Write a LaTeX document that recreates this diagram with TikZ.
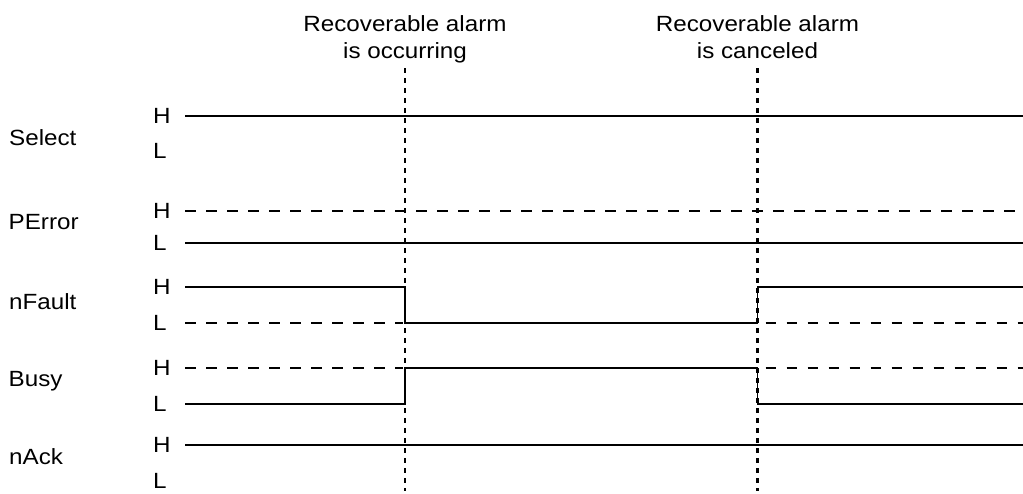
\documentclass[tikz,border=0pt]{standalone}
\usepackage{fontspec}
\setmainfont{Liberation Sans}[FakeStretch=1.1]
\begin{document}
\begin{tikzpicture}[x=1pt,y=-1pt,
  txt/.style={inner sep=0pt, font=\fontsize{22}{26}\selectfont},
  lbl/.style={txt, anchor=base west},
  hdr/.style={txt, anchor=base},
  wave/.style={line width=1.9pt},
  ghost/.style={line width=1.8pt, dash pattern=on 10.5pt off 10.5pt},
  event/.style={line width=2.1pt, dash pattern=on 5pt off 5pt}]
\useasboundingbox (0,0) rectangle (1023,493);

% time axis: start, end and the two event instants
\def\xs{185}
\def\xe{1023}
\def\ta{405}
\def\tb{757.5}

% event markers
\coordinate (evAtop) at (\ta,68);
\coordinate (evAbot) at (\ta,491);
\coordinate (evBtop) at (\tb,68);
\coordinate (evBbot) at (\tb,491);
\draw[event] (evAtop) -- (evAbot);
\draw[event] (evBtop) -- (evBbot);

\node[hdr] (hA1) at (\ta,31.7) {Recoverable alarm};
\node[hdr] (hA2) at (\ta,58.5) {is occurring};
\node[hdr] (hB1) at (\tb,31.7) {Recoverable alarm};
\node[hdr] (hB2) at (\tb,58.5) {is canceled};

% signal names
\node[lbl] (sSelect) at (9,145.5) {Select};
\node[lbl] (sPError) at (8.5,229.5) {PError};
\node[lbl] (sFault)  at (9,309) {nFault};
\node[lbl] (sBusy)   at (8.5,386) {Busy};
\node[lbl] (sAck)    at (9,464.3) {nAck};

% H / L levels of each signal
\def\SelH{116}  \def\SelL{150.5}
\def\PerH{211}  \def\PerL{243}
\def\FltH{287}  \def\FltL{323}
\def\BsyH{368}  \def\BsyL{404}
\def\AckH{445}  \def\AckL{481}

\foreach \lv/\nm in {\SelH/selh,\PerH/perh,\FltH/flth,\BsyH/bsyh,\AckH/ackh}
  \node[lbl] (\nm) at (153,\lv+7.8) {H};
\foreach \lv/\nm in {\SelL/sell,\PerL/perl,\FltL/fltl,\BsyL/bsyl,\AckL/ackl}
  \node[lbl] (\nm) at (153,\lv+7.8) {L};

% Select: constantly high
\draw[wave] (\xs,\SelH) -- (\xe,\SelH);

% PError: constantly low
\draw[ghost] (\xs,\PerH) -- (\xe,\PerH);
\draw[wave] (\xs,\PerL) -- (\xe,\PerL);

% nFault: drops while the alarm is active
\draw[wave] (\xs,\FltH) -- (\ta,\FltH) -- (\ta,\FltL) -- (\tb,\FltL)
  -- (\tb,\FltH) -- (\xe,\FltH);
\draw[ghost] (\xs,\FltL) -- (403,\FltL);
\draw[ghost] (765.5,\FltL) -- (\xe,\FltL);

% Busy: rises while the alarm is active
\draw[wave] (\xs,\BsyL) -- (\ta,\BsyL) -- (\ta,\BsyH) -- (\tb,\BsyH)
  -- (\tb,\BsyL) -- (\xe,\BsyL);
\draw[ghost] (\xs,\BsyH) -- (403,\BsyH);
\draw[ghost] (765.5,\BsyH) -- (\xe,\BsyH);

% nAck: constantly high
\draw[wave] (\xs,\AckH) -- (\xe,\AckH);
\end{tikzpicture}
\end{document}
